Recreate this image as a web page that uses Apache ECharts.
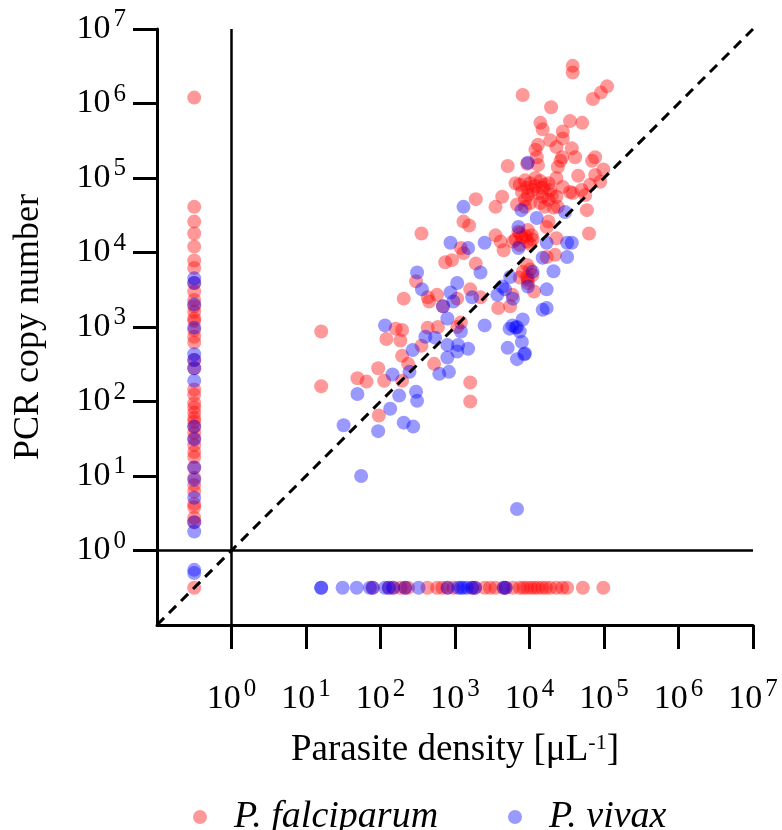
<!DOCTYPE html>
<html><head><meta charset="utf-8">
<script src="https://cdn.jsdelivr.net/npm/echarts@6/dist/echarts.min.js"></script>
<style>html,body{margin:0;padding:0;background:#fff}#c{width:782px;height:830px}</style>
</head><body><div id="c"></div>
<script>
// ---- data ----
const decadeTicks = [1, 10, 100, 1e3, 1e4, 1e5, 1e6, 1e7];
const ZERO_POS = 0.316; // undetected (0) values are drawn at 10^-0.5

// P. falciparum: [parasite density /uL, PCR copy number]
const pfPoints = [
 [3.8e4,3.2e6],[3.8e4,2.6e6],[8.1e3,1.3e6],[1.1e5,1.7e6],[9.1e4,1.4e6],[7.1e4,1.15e6],[1.95e4,8.9e5],
 [3.5e4,5.8e5],[5.1e4,5.5e5],[1.4e4,5.5e5],[1.5e4,4.5e5],[2.8e4,4.2e5],[2.8e4,3.4e5],[1.9e4,3.2e5],
 [1.3e4,2.8e5],[1.2e4,2.4e5],[2.3e4,2.6e5],[3.7e4,2.5e5],[2.75e4,1.9e5],[2.6e4,1.7e5],[4.1e4,1.9e5],
 [7.6e4,1.9e5],[6.9e4,1.7e5],[1.25e4,1.9e5],[1.3e4,1.5e5],[2.4e4,1.4e5],[5.1e3,1.45e5],[9.3e3,1.55e5],
 [9.8e4,1.3e5],[7.6e4,1.1e5],[4.5e4,1.07e5],[8.9e4,8.9e4],[6.5e4,8.1e4],[2.3e4,1.0e5],[6.5e3,8.5e4],
 [2.8e4,7.6e4],[3.5e4,6.5e4],[3.8e4,6.3e4],[5.0e4,6.9e4],[5.6e4,5.9e4],[2.3e4,5.6e4],[2.1e4,4.0e4],
 [2.4e4,4.1e4],[5.9e4,3.7e4],[6.3e4,1.8e4],[1.8e4,2.6e4],[1.7e4,2.2e4],[2.3e4,1.55e4],[6.8e3,4.4e4],
 [8.7e3,4.1e4],[4.3e3,5.6e4],[3.5e3,4.1e4],[1.9e3,5.2e4],[1.3e3,2.6e4],[1.55e3,2.3e4],[355,1.8e4],
 [3.5e3,1.7e4],[4.1e3,1.4e4],[4.5e3,1.07e4],[6.0e3,1.4e4],[7.4e3,1.8e4],[9.5e3,2.0e4],[1.07e4,1.7e4],
 [9.3e3,1.4e4],[1.1e4,1.5e4],[1.2e3,1.15e4],[1.3e3,9.8e3],[740,7.4e3],[910,7.9e3],[1.9e3,7.1e3],
 [1.7e4,8.7e3],[2.2e4,9.3e3],[9.3e3,6.8e3],[8.1e3,5.5e3],[7.4e3,4.6e3],[9.3e3,4.7e3],[9.5e3,4.3e3],
 [1.15e4,3.0e3],[300,4.1e3],[430,2.5e3],[450,2.2e3],[575,2.7e3],[1.6e3,3.2e3],[2.2e3,2.5e3],
 [1.07e3,2.4e3],[690,1.9e3],[3.8e3,1.8e3],[5.5e3,1.9e3],[205,2.4e3],[1.2e3,1.15e3],[430,980],
 [590,1.0e3],[160,950],[195,910],[185,660],[120,690],[355,560],[195,410],[16,870],[16,160],[49,205],
 [65,185],[93,280],[112,190],[235,320],[195,190],[95,65],[525,320],[1.6e3,180],[1.6e3,100],
 [1.07e3,1.0e3],[5.9e3,2.7e3],
 [7.4e3,8.1e4],[8.7e3,9.3e4],[1.02e4,8.5e4],[1.2e4,1.0e5],[1.4e4,9.1e4],[1.6e4,8.1e4],[1.9e4,6.9e4],
 [7.9e3,6.5e4],[9.5e3,5.9e4],[1.1e4,6.9e4],[1.3e4,6.3e4],[1.5e4,5.6e4],[1.8e4,5.1e4],[8.7e3,5.1e4],
 [1.02e4,4.6e4],[1.4e4,4.6e4],[1.6e4,4.1e4],[1.2e4,7.8e4],[1.5e4,7.4e4],[9.3e3,7.4e4],[1.8e4,8.5e4],
 [2.0e4,5.9e4],[7.1e3,1.9e4],[7.9e3,1.6e4],[8.9e3,1.66e4],[1.02e4,1.3e4],[7.4e3,1.26e4],[6.5e3,1.5e4],
 [1.02e4,5.9e3],[1.1e4,5.0e3],[9.5e3,3.9e3],
 [0,0]
];
// P. falciparum, microscopy negative: PCR copy numbers
const pfCopiesNoDensity = [1.2e6,4.1e4,2.6e4,1.8e4,1.2e4,7.8e3,6.2e3,3.9e3,3.0e3,2.3e3,1.9e3,1.6e3,1.3e3,
 1.2e3,910,740,620,360,280,145,123,95,83,71,60,54,46,38,32,26,21,18,13,9.5,7.6,6.2,4.2,3.8,2.75,2.4];
// P. falciparum, PCR negative: parasite densities
const pfDensityNoCopies = [78,129,148,186,214,234,427,575,676,794,955,1.7e3,1.86e3,2.5e3,2.95e3,3.5e3,
 4.5e3,4.8e3,6.0e3,7.4e3,8.3e3,9.3e3,1.05e4,1.17e4,1.3e4,1.48e4,1.66e4,1.9e4,2.3e4,2.75e4,3.2e4,5.2e4,9.8e4];

// P. vivax: [parasite density /uL, PCR copy number]
const pvPoints = [
 [9.5e3,1.6e5],[1.3e3,4.1e4],[7.8e3,3.7e4],[7.1e3,2.2e4],[1.25e4,2.9e4],[3.0e4,3.5e4],[870,1.35e4],
 [1.5e3,1.15e4],[2.5e3,1.35e4],[7.1e3,1.15e4],[1.7e4,1.35e4],[3.2e4,1.35e4],[3.7e4,1.35e4],[1.5e4,8.5e3],
 [3.2e4,8.7e3],[2.1e4,5.6e3],[310,5.4e3],[2.2e3,5.4e3],[5.5e3,4.7e3],[1.1e4,5.5e3],[1.07e3,3.9e3],
 [360,3.2e3],[870,2.9e3],[4.3e3,3.5e3],[4.7e3,3.2e3],[1.7e4,3.2e3],[9.5e3,3.5e3],[950,2.2e3],[1.7e3,2.5e3],
 [3.7e3,2.7e3],[6.0e3,2.4e3],[690,1.9e3],[1.5e4,1.7e3],[1.7e4,1.8e3],[790,1.3e3],[2.5e3,1.05e3],
 [5.9e3,1.05e3],[6.5e3,980],[8.1e3,1.26e3],[115,1.05e3],[400,740],[540,720],[790,575],[1.2e3,870],
 [1.1e3,575],[1.07e3,470],[1.5e3,510],[7.9e3,630],[5.1e3,525],[270,490],[8.7e3,440],[790,390],[6.8e3,370],
 [8.5e3,430],[6.8e3,3.6],[49,126],[32,48],[93,40],[145,230],[135,80],[178,120],[245,250],[300,135],
 [310,102],[205,52],[275,46],[615,235],[830,250],[55,10],[6.8e3,1.0e3],[5.4e3,950],[7.4e3,870]
];
// P. vivax, microscopy negative: PCR copy numbers
const pvCopiesNoDensity = [4.5e3,3.9e3,2.0e3,980,430,360,280,190,46,31,13,8.9,5.1,2.4,1.8,0.55,0.5];
// P. vivax, PCR negative: parasite densities
const pvDensityNoCopies = [16,16,31,48,72,79,115,129,148,214,324,794,1.1e3,1.2e3,1.29e3,1.45e3,1.7e3,
 1.86e3,4.5e3,4.8e3];

// ---- chart ----
const FONT = "'Liberation Serif','Times New Roman',serif";
const place = v => (v === 0 ? ZERO_POS : v);
function build(points, copiesNoDens, densNoCopies) {
  return points.map(p => [place(p[0]), place(p[1])])
    .concat(copiesNoDens.map(c => [ZERO_POS, c]))
    .concat(densNoCopies.map(d => [d, ZERO_POS]));
}
const pfData = build(pfPoints, pfCopiesNoDensity, pfDensityNoCopies);
const pvData = build(pvPoints, pvCopiesNoDensity, pvDensityNoCopies);

const labelRich = {
  b: {fontSize: 34, fontFamily: FONT, color: '#000', lineHeight: 44},
  s: {fontSize: 25, fontFamily: FONT, color: '#000', lineHeight: 25, verticalAlign: 'top', padding: [0, 0, 0, 3]}
};
const fmt = v => '{b|10}{s|' + Math.round(Math.log10(v)) + '}';
const axisCommon = {
  type: 'log', logBase: 10, min: 0.1, max: 1e7,
  splitLine: {show: false},
  axisLine: {show: true, onZero: false, lineStyle: {color: '#000', width: 3}},
  axisTick: {show: true, length: 24, customValues: decadeTicks, lineStyle: {color: '#000', width: 3}},
};
const legendCommon = {
  top: 793, itemWidth: 14, itemHeight: 14, icon: 'circle',
  textStyle: {fontSize: 38, fontFamily: FONT, fontStyle: 'italic', color: '#000', padding: [0, 0, 0, 22]}
};
const chart = echarts.init(document.getElementById('c'), null, {renderer: 'canvas'});
chart.setOption({
  animation: false,
  backgroundColor: '#fff',
  grid: {left: 157, top: 29, width: 596, height: 596, containLabel: false},
  xAxis: Object.assign({}, axisCommon, {
    axisLabel: {customValues: decadeTicks, formatter: fmt, rich: labelRich, margin: 52},
    name: 'Parasite density [μL{s|-1}]', nameLocation: 'middle', nameGap: 107,
    nameTextStyle: {fontSize: 37, fontFamily: FONT, color: '#000',
      rich: {s: {fontSize: 22, fontFamily: FONT, color: '#000', verticalAlign: 'top', lineHeight: 20}}}
  }),
  yAxis: Object.assign({}, axisCommon, {
    axisLabel: {customValues: decadeTicks, formatter: fmt, rich: labelRich, margin: 31},
    name: 'PCR copy number', nameLocation: 'middle', nameGap: 110, nameRotate: 90,
    nameTextStyle: {fontSize: 36, fontFamily: FONT, color: '#000'}
  }),
  legend: [
    Object.assign({data: ['P. falciparum'], left: 188}, legendCommon),
    Object.assign({data: ['P. vivax'], left: 503}, legendCommon)
  ],
  series: [
    {type: 'line', data: [[0.1, 1], [1e7, 1]], symbol: 'none', silent: true, z: 1,
     lineStyle: {color: '#000', width: 2.5}},
    {type: 'line', data: [[1, 0.1], [1, 1e7]], symbol: 'none', silent: true, z: 1,
     lineStyle: {color: '#000', width: 2.5}},
    {name: 'P. falciparum', type: 'scatter', data: pfData, symbolSize: 14, z: 2,
     itemStyle: {color: 'rgba(255,0,0,0.5)'}},
    {name: 'P. vivax', type: 'scatter', data: pvData, symbolSize: 14, z: 3,
     itemStyle: {color: 'rgba(0,0,255,0.5)'}},
    {type: 'line', data: [[0.1, 0.1], [1e7, 1e7]], symbol: 'none', silent: true, z: 4,
     lineStyle: {color: '#000', width: 3, type: [10, 7]}}
  ]
});
</script></body></html>
